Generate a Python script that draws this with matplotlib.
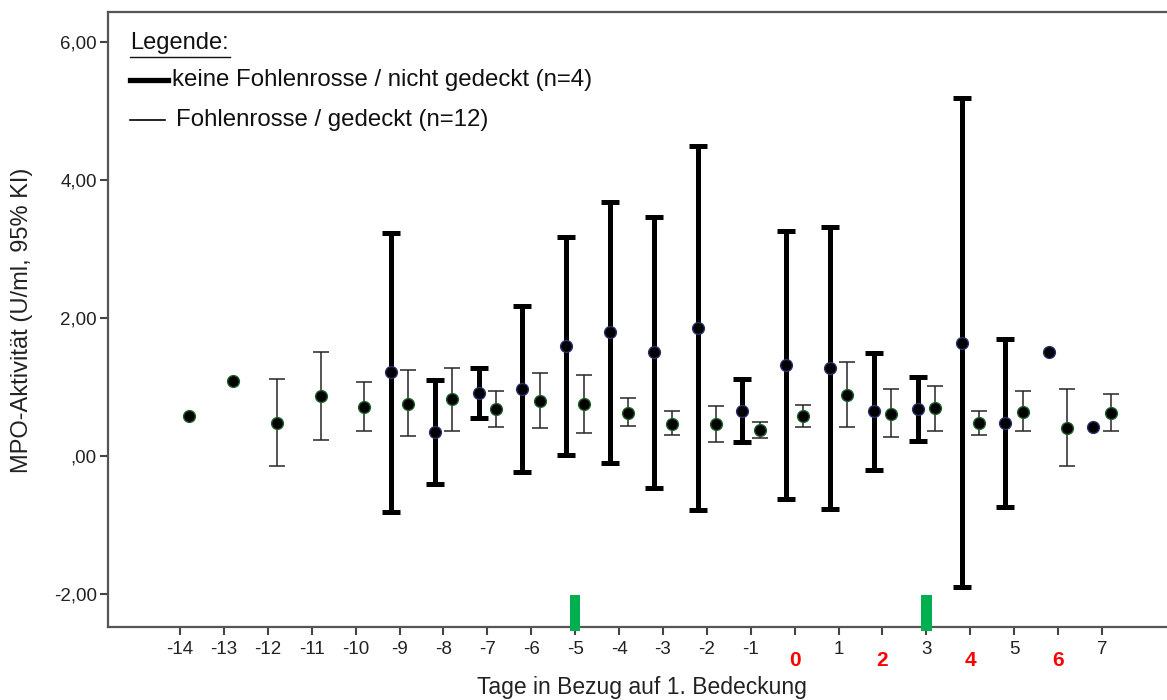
import numpy as np
import matplotlib
matplotlib.use('Agg')
import matplotlib.pyplot as plt
from matplotlib.lines import Line2D

plt.rcParams['font.family'] = ['Liberation Sans', 'DejaVu Sans']

nan = np.nan

# days relative to first covering
days = np.arange(-14, 8)

# group 1: keine Fohlenrosse / nicht gedeckt (n=4)
thick_mean = [nan, nan, nan, nan, nan, 1.22, 0.35, 0.91, 0.97, 1.60, 1.80, 1.51, 1.85, 0.65,
              1.32, 1.27, 0.65, 0.68, 1.64, 0.48, 1.51, 0.42]
thick_lo = [nan, nan, nan, nan, nan, -0.81, -0.41, 0.55, -0.23, 0.02, -0.10, -0.46, -0.79, 0.20,
            -0.62, -0.77, -0.20, 0.22, -1.90, -0.74, nan, nan]
thick_hi = [nan, nan, nan, nan, nan, 3.24, 1.10, 1.28, 2.17, 3.18, 3.69, 3.47, 4.50, 1.12,
            3.27, 3.32, 1.50, 1.15, 5.19, 1.69, nan, nan]

# group 2: Fohlenrosse / gedeckt (n=12)
thin_mean = [0.58, 1.09, 0.48, 0.87, 0.71, 0.76, 0.83, 0.68, 0.80, 0.75, 0.63, 0.47, 0.46, 0.38,
             0.58, 0.89, 0.61, 0.70, 0.48, 0.64, 0.41, 0.63]
thin_lo = [nan, nan, -0.15, 0.23, 0.36, 0.29, 0.36, 0.42, 0.41, 0.34, 0.43, 0.30, 0.20, 0.26,
           0.42, 0.42, 0.27, 0.37, 0.31, 0.36, -0.15, 0.36]
thin_hi = [nan, nan, 1.12, 1.51, 1.07, 1.25, 1.28, 0.94, 1.20, 1.17, 0.84, 0.65, 0.73, 0.49,
           0.74, 1.36, 0.97, 1.01, 0.65, 0.94, 0.97, 0.90]

# days highlighted on the x axis
red_days = [0, 2, 4, 6]
green_days = [-5, 3]

yticks = [-2, 0, 2, 4, 6]
ytick_labels = ['-2,00', ',00', '2,00', '4,00', '6,00']

W, H = 1167, 700
fig = plt.figure(figsize=(W / 100, H / 100), dpi=100)
ax = fig.add_axes([108 / W, (H - 627) / H, (W - 108) / W, (627 - 12) / H])

shift = 0.2


def draw_group(x, mean, lo, hi, lw, cap, ecol, mcol):
    mean = np.array(mean)
    lo = np.array(lo)
    hi = np.array(hi)
    ok = ~np.isnan(lo)
    ax.errorbar(x[ok], mean[ok], yerr=[mean[ok] - lo[ok], hi[ok] - mean[ok]], fmt='none',
                ecolor=ecol, elinewidth=lw, capsize=cap, capthick=lw, zorder=2)
    has = ~np.isnan(mean)
    ax.plot(x[has], mean[has], 'o', ms=8.5, mfc='black', mec=mcol, mew=1.0, zorder=3)


draw_group(days - shift, thick_mean, thick_lo, thick_hi, 3.6, 6.5, 'black', '#27306a')
draw_group(days + shift, thin_mean, thin_lo, thin_hi, 1.1, 5.5, '#262626', '#1f5f2a')

# green markers sitting on the x axis
ax.bar(green_days, [0.52] * len(green_days), bottom=-2.54, width=0.24, color='#00b050',
       clip_on=False, zorder=4)

ax.set_xlim(-15.64, 8.48)
ax.set_ylim(-2.48, 6.44)

ax.set_yticks(yticks)
ax.set_yticklabels(ytick_labels, fontsize=13.5, color='#222222')
ax.set_xticks(days)
ax.set_xticklabels(['' if d in red_days else str(d) for d in days], fontsize=13.5, color='#222222')
ax.tick_params(axis='both', direction='out', length=6, width=1.5, color='#444444')
ax.tick_params(axis='x', pad=4)
ax.tick_params(axis='y', pad=2)

for d in red_days:
    ax.text(d, -0.054, str(d), transform=ax.get_xaxis_transform(), ha='center', va='center',
            fontsize=15, fontweight='bold', color='red')

for side in ['left', 'bottom', 'top']:
    ax.spines[side].set_color('#555555')
    ax.spines[side].set_linewidth(1.6)
ax.spines['right'].set_visible(False)

ax.set_xlabel('Tage in Bezug auf 1. Bedeckung', fontsize=16.5, color='#222222', va='center')
ax.xaxis.set_label_coords(0.504, -0.099)
ax.set_ylabel('MPO-Aktivität (U/ml, 95% KI)', fontsize=17, color='#222222', va='center')
ax.yaxis.set_label_coords(-0.081, 0.499)

# hand-made legend in the upper left corner
fig.text(130 / W, 1 - 43 / H, 'Legende:', fontsize=17, va='center', ha='left', color='#111111')
fig.add_artist(Line2D([130 / W, 230 / W], [1 - 57 / H, 1 - 57 / H], color='#111111', lw=1.0))
fig.add_artist(Line2D([130 / W, 168 / W], [1 - 80 / H, 1 - 80 / H], color='black', lw=3.8))
fig.text(172 / W, 1 - 80 / H, 'keine Fohlenrosse / nicht gedeckt (n=4)', fontsize=17.3,
         va='center', ha='left', color='#111111')
fig.add_artist(Line2D([130 / W, 165 / W], [1 - 120 / H, 1 - 120 / H], color='black', lw=1.2))
fig.text(176 / W, 1 - 120 / H, 'Fohlenrosse / gedeckt (n=12)', fontsize=17.3,
         va='center', ha='left', color='#111111')

fig.savefig('out.png', dpi=100)
